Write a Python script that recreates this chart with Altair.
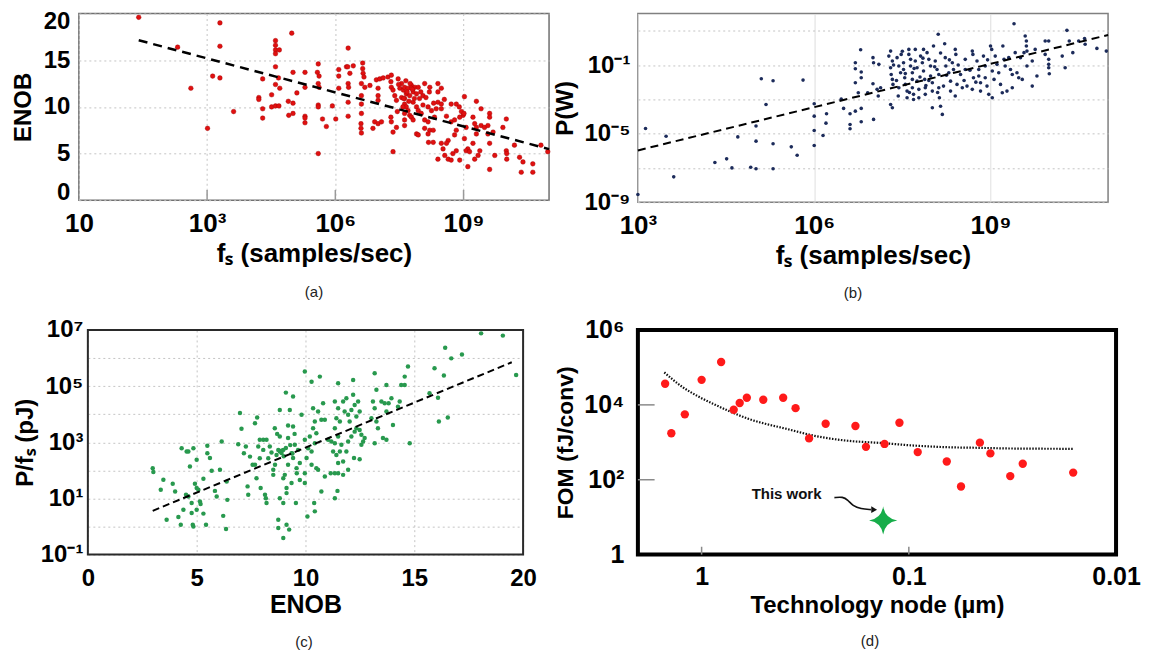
import math
import altair as alt
import pandas as pd

FONT = "Liberation Sans"

# ---------------- panel (a): ENOB vs fs  (log10 fs, ENOB) ----------------
a_points = [
    (1.40, 19.6), (2.31, 16.4), (3.30, 19.0), (3.30, 16.5), (2.62, 12.0), (3.13, 13.3), (3.30, 13.1),
    (3.01, 7.7), (3.62, 9.5), (4.21, 11.0), (4.21, 10.8), (4.30, 13.0), (4.30, 9.8), (4.30, 8.8),
    (4.51, 11.3), (4.51, 10.0), (4.60, 17.1), (4.60, 16.6), (4.60, 16.1), (4.69, 16.1), (4.60, 15.7),
    (4.60, 14.3), (4.67, 13.1), (4.60, 12.4), (4.70, 12.0), (4.60, 10.1), (4.68, 10.1), (4.90, 10.6),
    (5.01, 10.4), (4.91, 9.1), (5.01, 9.3), (4.98, 17.9), (5.01, 13.7), (5.10, 11.5), (5.29, 13.7),
    (5.29, 12.1), (5.29, 9.0), (5.29, 8.8), (5.29, 8.3), (5.60, 14.6), (5.58, 13.7), (5.62, 13.3),
    (5.60, 12.5), (5.62, 12.1), (5.60, 10.2), (5.60, 10.0), (5.93, 10.1), (5.70, 8.7), (5.79, 7.9),
    (6.01, 8.7), (5.60, 5.0), (6.08, 14.0), (6.08, 13.3), (6.08, 12.0), (6.26, 14.3),
    (6.30, 16.3), (6.29, 14.3), (6.34, 13.6), (6.30, 12.5), (6.31, 12.1), (6.30, 10.5), (6.30, 9.0),
    (6.42, 14.4), (6.64, 14.7), (6.64, 14.1), (6.65, 13.6), (6.67, 13.2), (6.61, 12.5), (6.69, 12.1),
    (6.61, 11.2), (6.61, 10.3), (6.61, 9.3), (6.60, 8.2), (6.60, 7.7), (6.61, 7.2), (6.81, 12.3),
    (6.88, 7.7), (6.92, 8.4), (7.00, 8.2), (7.08, 8.4), (6.96, 12.9), (7.04, 13.0), (7.12, 13.1),
    (7.23, 13.2), (7.31, 13.4), (7.47, 13.0), (7.00, 12.0), (7.00, 11.2), (7.00, 10.7), (7.30, 12.7),
    (7.31, 12.1), (7.35, 11.8), (7.39, 11.2), (7.43, 10.7), (7.30, 8.9), (7.31, 8.4), (7.35, 7.3),
    (7.43, 7.8), (7.35, 5.2), (7.51, 12.0), (7.55, 12.5), (7.59, 11.8), (7.62, 12.1), (7.66, 11.4),
    (7.62, 10.9), (7.62, 10.3), (7.66, 10.0), (7.62, 9.3), (7.62, 8.6), (7.62, 8.0), (7.70, 12.0),
    (7.74, 11.2), (7.78, 12.3), (7.82, 11.6), (7.86, 12.1), (7.90, 11.4), (7.94, 12.1), (7.97, 10.9),
    (7.82, 10.5), (7.90, 10.0), (7.94, 9.6), (8.01, 9.3), (7.74, 9.1), (7.78, 8.9), (7.82, 8.6),
    (7.90, 7.1), (7.94, 7.0), (8.09, 12.5), (8.21, 12.1), (8.05, 11.2), (8.17, 10.0), (8.25, 9.6),
    (8.36, 9.8), (8.09, 8.6), (8.17, 8.4), (8.32, 8.9), (8.09, 7.7), (8.21, 7.5), (8.17, 7.1),
    (8.40, 12.5), (8.48, 12.0), (8.40, 11.6), (8.40, 10.5), (8.48, 10.3), (8.48, 9.8), (8.18, 6.2),
    (8.29, 6.2), (8.48, 6.1), (8.29, 7.5), (8.71, 10.3), (8.83, 10.3), (8.71, 8.4), (8.79, 8.6),
    (8.83, 7.5), (8.79, 7.0), (8.64, 6.4), (8.60, 6.1), (8.52, 5.5), (8.40, 4.4), (8.56, 4.8),
    (8.64, 4.4), (8.71, 4.3), (8.75, 5.0), (8.83, 5.3), (8.91, 4.3), (9.02, 11.1), (8.95, 9.5),
    (8.99, 9.1), (8.91, 8.9), (9.01, 9.3), (9.06, 7.8), (9.02, 6.6), (9.10, 5.5), (9.06, 5.3),
    (9.14, 5.2), (9.10, 3.6), (9.22, 8.9), (9.26, 8.2), (9.30, 7.8), (9.30, 7.1), (9.22, 6.1),
    (9.26, 4.4), (9.34, 4.8), (9.38, 5.3), (9.30, 10.6), (9.41, 9.8), (9.41, 8.0), (9.49, 7.8),
    (9.57, 8.0), (9.61, 9.3), (9.61, 8.9), (9.61, 6.1), (9.57, 7.1), (9.69, 7.3), (9.73, 4.8),
    (9.61, 3.3), (9.92, 7.8), (10.00, 8.7), (10.00, 5.3), (10.01, 5.0), (10.01, 4.4), (10.19, 5.9),
    (10.31, 4.6), (10.39, 4.1), (10.35, 3.0), (10.62, 3.9), (10.62, 3.0), (10.81, 5.9), (10.97, 5.2),
    (7.55, 11.0), (7.60, 10.9), (7.68, 11.6), (7.72, 10.6), (7.75, 12.5), (7.80, 11.9), (7.65, 12.8),
    (7.58, 10.0), (7.70, 9.6), (7.85, 10.9), (8.00, 11.6), (8.05, 10.2), (7.48, 12.4), (7.45, 9.5),
    (8.12, 11.0), (8.30, 10.4), (8.20, 11.6), (8.55, 10.8), (8.60, 9.0), (8.90, 10.0),
]
a_trend_log_fs = [1.40, 11.0]
a_trend_enob = [17.14, 5.48]
a_inner_ticks = [1e3, 1e6, 1e9]

# ---------------- panel (b): P vs fs  (log10 fs, log10 P) ----------------
b_points = [
    (3.00, -8.55), (3.13, -4.70), (3.48, -5.15), (3.61, -7.52), (4.31, -6.68), (4.51, -6.47),
    (4.60, -7.00), (4.70, -5.19), (4.92, -6.96), (5.01, -7.05), (5.01, -4.56), (5.01, -5.44),
    (5.10, -1.80), (5.18, -3.30), (5.30, -1.92), (5.30, -5.59), (5.30, -7.05), (5.61, -5.77),
    (5.71, -6.26), (5.81, -1.88), (6.00, -3.26), (6.00, -3.98), (6.00, -4.82), (6.00, -5.69),
    (6.15, -5.11), (6.21, -3.84), (6.20, -4.39), (6.46, -2.99), (6.50, -3.53), (6.61, -3.84),
    (6.61, -4.47), (6.61, -4.72), (6.70, -0.87), (6.70, -1.22), (6.70, -2.03), (6.70, -3.69),
    (6.75, -2.62), (6.79, -0.11), (6.80, -1.41), (6.80, -1.74), (6.80, -3.53), (6.80, -4.31),
    (6.91, -2.62),
    (7.00, -0.57), (7.01, -0.87), (7.10, -0.96), (7.00, -2.09), (7.07, -2.42), (7.09, -2.81),
    (7.13, -2.33), (7.01, -4.17), (7.27, -0.48), (7.30, -0.19), (7.33, -0.77), (7.30, -1.16),
    (7.31, -1.55), (7.33, -1.84), (7.34, -2.13), (7.33, -3.49), (7.30, -3.30), (7.41, -0.57),
    (7.44, -1.06), (7.47, -1.45), (7.44, -2.33), (7.43, -2.81), (7.48, -0.38), (7.52, -0.87),
    (7.52, -1.26), (7.54, -1.74), (7.55, -2.13), (7.58, -2.52), (7.58, -2.91), (7.61, -0.09),
    (7.61, -0.38), (7.64, -0.67), (7.64, -1.06), (7.67, -1.45), (7.67, -1.84), (7.67, -2.33),
    (7.69, -2.71), (7.69, -3.01), (7.72, -0.09), (7.72, -0.77), (7.75, -1.16), (7.75, -1.94),
    (7.78, -2.42), (7.78, -2.91), (7.81, -0.48), (7.84, -0.87), (7.86, -0.09), (7.86, -1.35),
    (7.88, -1.84), (7.89, -2.33), (7.89, -2.71), (7.92, -0.28), (7.95, -0.67), (7.98, -1.06),
    (7.98, -1.64), (8.01, -2.03), (8.01, -2.52), (8.01, -3.49), (8.03, 0.11), (8.06, -0.77),
    (8.09, -1.26), (8.11, 0.79), (8.12, -1.55), (8.12, -2.33), (8.13, -2.91), (8.15, -3.40),
    (8.18, -3.88), (8.20, -2.23), (8.22, 0.24), (8.23, -0.57), (8.24, -1.06), (8.29, -1.45),
    (8.32, -1.94), (8.32, -2.52), (8.35, -0.87), (8.37, -1.26), (8.40, -0.09), (8.40, -2.81),
    (8.41, -0.38), (8.43, -2.13), (8.49, -1.55), (8.52, -2.33), (8.57, -0.67), (8.57, -1.26),
    (8.60, -2.23), (8.69, -0.19), (8.70, -0.38), (8.71, -1.74), (8.69, -2.42), (8.77, -0.77),
    (8.80, -1.26), (8.80, -1.64), (8.83, -2.03), (8.83, -2.52), (8.88, -0.48), (8.91, -1.06),
    (8.91, -1.74), (8.94, -2.23), (8.97, -2.71), (9.00, 0.11), (9.02, -0.09), (9.03, -1.35),
    (9.06, -1.84), (9.03, -2.91), (9.08, -0.48), (9.11, -0.96), (9.14, -1.45), (9.17, -2.13),
    (9.20, -2.62), (9.21, 0.11), (9.23, -0.67), (9.25, -1.06), (9.28, -2.52), (9.31, -0.57),
    (9.34, -1.26), (9.37, -1.55), (9.37, -2.33), (9.40, 1.41), (9.42, -0.28), (9.45, -1.45),
    (9.48, -1.74), (9.51, -0.57), (9.54, -1.84), (9.57, -0.28), (9.59, 0.69), (9.61, 0.40),
    (9.61, 0.11), (9.62, -0.19), (9.62, -1.06), (9.71, -0.77), (9.71, -2.23), (9.76, -0.09),
    (9.79, -1.64), (9.93, 0.40), (9.99, 0.40), (9.93, -0.38), (9.99, -0.67), (9.99, -0.96),
    (9.99, -1.16), (10.00, -1.51), (10.22, -0.48), (10.27, -1.16), (10.30, 1.02), (10.34, 0.40),
    (10.40, -0.28), (10.50, 0.40), (10.60, 0.55), (10.61, 0.21), (10.81, -0.03), (10.97, -0.19),
    (7.35, -1.0), (7.40, -1.9), (7.50, -0.2), (7.55, -1.5), (7.62, -2.6), (7.70, -1.2),
    (7.80, -1.7), (7.85, -0.6), (7.90, -2.2), (7.95, -1.9), (8.05, -1.1), (8.10, -2.6),
    (8.15, -0.3), (8.25, -1.6), (8.30, -0.7), (8.45, -1.0), (8.55, -1.9), (8.65, -1.3),
    (8.75, -2.0), (8.95, -0.7),
]
b_trend_log_fs = [3.0, 11.0]
b_trend_log_p = [-5.98, 0.75]

# ---------------- panel (c): P/fs vs ENOB  (ENOB, log10 pJ) ----------------
c_points = [
    (2.98, 2.08), (3.01, 1.94), (3.47, 1.67), (3.35, 1.31), (3.62, 0.24), (3.90, 1.52), (4.01, 1.25),
    (4.16, 0.34), (4.27, 0.06), (4.31, 2.79), (4.54, 2.67), (4.62, 2.67), (4.39, 0.60), (4.51, 1.13),
    (4.62, 1.07), (4.69, 2.14), (4.77, 0.84), (4.77, 0.48), (4.82, 0.06), (4.85, 0.00), (4.85, 2.79),
    (4.92, 1.52), (5.00, 1.37), (5.00, 2.38), (5.00, 0.60), (5.08, 1.31), (5.15, 0.89), (5.18, 0.80),
    (5.31, 1.70), (5.31, 0.46), (5.43, 0.06), (5.49, 2.88), (5.49, 2.61), (5.61, 2.44), (5.69, 1.99),
    (5.84, 1.27), (5.92, 1.07), (6.07, 2.02), (6.15, 3.03), (6.22, 0.38), (6.35, -0.09), (6.38, 1.60),
    (6.41, 0.95), (6.91, 2.93), (6.99, 4.04), (7.06, 3.48), (7.17, 2.61), (7.26, 2.85), (7.34, 1.43),
    (7.37, 1.13), (7.45, 2.49), (7.57, 2.20), (7.68, 2.20), (7.68, 3.68), (7.75, 1.72), (7.78, 3.88),
    (7.83, 2.85), (7.90, 3.09), (7.94, 1.37), (7.90, 2.43), (8.06, 3.09), (8.21, 3.09), (8.06, 2.73),
    (8.14, 1.13), (8.18, 1.01), (8.21, 0.84), (8.29, 2.43), (8.36, 2.85), (8.44, 2.64), (8.52, 2.02),
    (8.52, 1.84), (8.59, 3.50), (8.67, 2.55), (8.75, 2.73), (8.75, 0.24), (8.75, -0.05), (8.82, 4.15),
    (8.82, 3.21), (8.90, 2.62), (8.82, 2.67), (8.98, 2.73), (8.82, 1.01), (8.98, 0.84), (8.98, -0.41),
    (8.98, 1.72), (9.05, 1.84), (9.10, 4.77), (9.13, 1.37), (9.13, 1.19), (9.13, 0.06), (9.20, 3.15),
    (9.20, 2.20), (9.25, -0.11), (9.28, 4.15), (9.36, 2.61), (9.36, 1.55), (9.43, 4.63), (9.43, 3.56),
    (9.43, 2.44), (9.51, 2.91), (9.56, 0.84), (9.59, 2.08), (9.66, 2.73), (9.74, 2.26), (9.74, 1.66),
    (9.82, 3.98), (9.97, 5.52), (9.97, 3.09), (9.97, 1.55),
    (8.90, 2.70), (9.00, 2.50), (9.10, 2.80), (9.30, 2.90), (9.40, 2.60), (9.50, 3.30), (9.20, 3.60),
    (8.70, 3.30), (8.60, 2.20), (9.60, 1.90),
    (10.28, 5.16), (10.66, 5.34), (10.35, 4.21), (10.58, 4.10), (10.81, 4.39), (10.20, 3.21),
    (10.43, 3.74), (10.35, 3.50), (10.73, 3.80), (10.89, 3.80), (10.50, 3.32), (10.43, 2.97),
    (10.12, 2.79), (10.28, 2.67), (10.05, 2.44), (10.28, 2.20), (9.97, 1.90), (10.50, 2.08),
    (10.58, 2.02), (10.89, 1.78), (10.73, 1.25), (10.40, 0.84), (10.43, 0.54), (10.09, 0.36),
    (11.35, 4.45), (11.50, 4.21), (11.42, 3.86), (11.35, 3.50), (11.58, 3.74), (11.73, 4.45),
    (11.80, 4.10), (11.88, 4.57), (11.96, 3.98), (12.11, 4.15), (12.03, 3.74), (12.19, 4.69),
    (12.26, 4.33), (12.42, 4.45), (12.34, 3.92), (12.49, 4.10), (11.04, 3.09), (11.19, 3.03),
    (11.35, 2.97), (11.50, 3.21), (11.27, 2.67), (11.42, 2.55), (11.58, 2.67), (11.65, 2.91),
    (11.88, 2.67), (11.96, 3.03), (12.11, 3.21), (12.26, 3.38), (12.34, 3.50), (12.49, 3.44),
    (12.57, 3.27), (12.65, 3.03), (12.72, 3.15), (12.57, 2.91), (11.50, 5.10), (12.19, 5.22),
    (11.50, 2.26), (11.73, 2.32), (11.96, 2.02), (12.23, 2.44), (12.49, 2.40), (11.16, 1.90),
    (11.35, 1.90), (11.50, 1.90), (11.73, 1.84), (11.35, 1.01), (11.47, 1.27), (13.18, 5.46),
    (13.26, 4.87), (13.10, 4.45), (13.18, 4.21), (13.03, 3.86), (13.26, 3.74), (13.33, 3.50),
    (13.18, 2.97), (13.56, 3.15), (13.72, 3.09), (13.49, 4.45), (13.64, 4.39), (13.72, 4.10),
    (13.82, 4.39), (13.72, 5.04), (13.95, 4.57), (14.33, 4.45), (14.25, 4.27), (14.02, 3.62),
    (14.71, 5.70), (14.56, 5.34), (14.40, 5.04), (14.56, 5.04), (14.79, 2.97), (15.70, 4.75),
    (15.93, 5.64), (16.09, 4.59), (16.13, 3.74), (16.36, 5.38), (16.42, 6.37), (16.54, 3.88),
    (16.70, 5.99), (17.19, 6.13), (18.07, 6.88), (19.07, 6.80), (19.68, 5.40),
]
c_trend_enob = [2.98, 19.48]
c_trend_log_pj = [0.56, 5.85]

# ---------------- panel (d): FOM vs technology node ----------------
d_node = [1.50, 1.40, 1.205, 1.0, 0.805, 0.70, 0.655, 0.605, 0.504, 0.404, 0.352, 0.303, 0.252,
          0.181, 0.161, 0.131, 0.111, 0.0906, 0.0656, 0.056, 0.0454, 0.0404, 0.0324, 0.0282, 0.0161]
d_fom = [36600, 1750, 5580, 46600, 140000, 7400, 11200, 15500, 13700, 15500, 8170, 1270, 3130,
         2720, 755, 904, 3320, 548, 307, 66, 980, 506, 125, 267, 155]
d_fit_node = [1.514, 1.237, 1.030, 0.857, 0.713, 0.594, 0.494, 0.411, 0.342, 0.285, 0.197, 0.137,
              0.0947, 0.0656, 0.0454, 0.0315, 0.0160]
d_fit_fom = [73800, 30000, 16400, 9980, 6300, 4220, 3130, 2460, 1900, 1490, 1100, 960, 820, 740,
             711, 682, 670]
d_this_node = [0.133]
d_this_fom = [8.2]
d_label_node = [0.389]
d_label_fom = [42]
d_arrow_node = [0.2286, 0.2084, 0.197, 0.1866, 0.1702, 0.1524]
d_arrow_fom = [33.3, 35.3, 28.9, 20.2, 16.5, 15.9]
d_arrowhead_node = [0.147]
d_arrowhead_fom = [15.9]
d_ytick_vals = [100, 10000]
d_xtick_vals = [1, 0.1]

# ---------------- helpers ----------------
SUP = str.maketrans("-0123456789", "⁻⁰¹²³⁴⁵⁶⁷⁸⁹")


def pow10(e):
    return "10" + str(e).translate(SUP)


def log_label_expr(pairs):
    expr = "''"
    for v, lab in reversed(pairs):
        e = math.log10(v)
        expr = f"(abs(log(datum.value)/LN10 - ({e:.4f})) < 0.01) ? '{lab}' : ({expr})"
    return expr


def axis(title, values=None, label_expr=None, grid=True, grid_dash=(2, 3), grid_color="#c4c4c4",
         label_size=24, title_size=24, label_pad=8, title_pad=6, weight="bold", **extra):
    kw = dict(
        title=title, grid=grid, domain=False, ticks=False,
        labelFont=FONT, labelFontSize=label_size, labelFontWeight=weight, labelColor="black",
        titleFont=FONT, titleFontSize=title_size, titleFontWeight=weight, titleColor="black",
        labelPadding=label_pad, titlePadding=title_pad, labelOverlap=False, labelFlush=False,
    )
    if grid:
        kw.update(gridColor=grid_color, gridDash=list(grid_dash), gridWidth=1)
    if values is not None:
        kw["values"] = values
    if label_expr is not None:
        kw["labelExpr"] = label_expr
    kw.update(extra)
    return alt.Axis(**kw)


def caption(text, offset, dx=0):
    return alt.TitleParams(text, orient="bottom", anchor="middle", font=FONT, fontSize=15,
                           fontWeight="normal", color="#222", offset=offset, dx=dx)


# ---------------- chart (a) ----------------
df_a = pd.DataFrame({"fs": [10 ** p[0] for p in a_points], "enob": [p[1] for p in a_points]})
df_a_tr = pd.DataFrame({"fs": [10 ** v for v in a_trend_log_fs], "enob": a_trend_enob})
df_a_tk = pd.DataFrame({"fs": a_inner_ticks, "enob": [0] * len(a_inner_ticks),
                        "enob2": [1.1] * len(a_inner_ticks)})
xa = alt.X("fs:Q", scale=alt.Scale(type="log", domain=[1, 1e11], nice=False),
           axis=axis("fₛ (samples/sec)", [1, 1e3, 1e6, 1e9],
                     log_label_expr([(1, "10"), (1e3, pow10(3)), (1e6, pow10(6)), (1e9, pow10(9))]),
                     label_size=26, title_size=26, label_pad=10, title_pad=4))
ya = alt.Y("enob:Q", scale=alt.Scale(domain=[0, 20], nice=False),
           axis=axis("ENOB", [0, 5, 10, 15, 20], label_size=24, title_size=24, label_pad=9, title_pad=8,
                     labelFlush=True, labelFlushOffset=4))
tka = alt.Chart(df_a_tk).mark_rule(color="#999", strokeWidth=1.5).encode(x=xa, y=ya, y2="enob2:Q")
pa = alt.Chart(df_a).mark_circle(size=22, color="#e01010", opacity=1,
                                 stroke="#a00000", strokeWidth=0.4).encode(x=xa, y=ya)
la = alt.Chart(df_a_tr).mark_line(color="black", strokeDash=[9, 6], strokeWidth=2.5).encode(x=xa, y=ya)
chart_a = alt.layer(tka, pa, la).properties(
    width=471, height=187, view=alt.ViewBackground(stroke="#707070", strokeWidth=1.5),
    title=caption("(a)", 19))

# ---------------- chart (b) ----------------
df_b = pd.DataFrame({"fs": [10 ** p[0] for p in b_points], "p": [10 ** p[1] for p in b_points]})
df_b_tr = pd.DataFrame({"fs": [10 ** v for v in b_trend_log_fs], "p": [10 ** v for v in b_trend_log_p]})
xb = alt.X("fs:Q", scale=alt.Scale(type="log", domain=[1e3, 1e11], nice=False),
           axis=axis("fₛ (samples/sec)", [1e3, 1e6, 1e9],
                     log_label_expr([(1e3, pow10(3)), (1e6, pow10(6)), (1e9, pow10(9))]),
                     grid_dash=(1, 0), grid_color="#dcdcdc",
                     label_size=26, title_size=26, label_pad=10, title_pad=4))
yb_vals = [1e-9, 1e-7, 1e-5, 1e-3, 1e-1, 1e1]
yb = alt.Y("p:Q", scale=alt.Scale(type="log", domain=[1e-9, 1e2], nice=False),
           axis=axis("P(W)", yb_vals,
                     log_label_expr([(1e-9, pow10(-9)), (1e-7, ""), (1e-5, pow10(-5)), (1e-3, ""),
                                     (1e-1, pow10(-1)), (1e1, "")]),
                     label_size=24, title_size=24, label_pad=8, title_pad=6))
pb = alt.Chart(df_b).mark_circle(size=13, color="#1c2b5a", opacity=1).encode(x=xb, y=yb)
lb = alt.Chart(df_b_tr).mark_line(color="black", strokeDash=[8, 5], strokeWidth=2).encode(x=xb, y=yb)
chart_b = alt.layer(pb, lb).properties(
    width=471, height=189, view=alt.ViewBackground(stroke="#808080", strokeWidth=1.5),
    title=caption("(b)", 18, dx=-20))

# ---------------- chart (c) ----------------
C_SHIFT = 9  # plot frame starts a little right of column (a)'s frame
df_c = pd.DataFrame({"enob": [p[0] for p in c_points], "pj": [10 ** p[1] for p in c_points]})
df_c_tr = pd.DataFrame({"enob": c_trend_enob, "pj": [10 ** v for v in c_trend_log_pj]})
df_c_frame = pd.DataFrame({"enob": [0], "enob2": [20], "pj": [0.1], "pj2": [1e7]})
xc = alt.X("enob:Q", scale=alt.Scale(domain=[0, 20], nice=False, range=[C_SHIFT, 445]),
           axis=axis("ENOB", [0, 5, 10, 15, 20], label_size=24, title_size=25, label_pad=12, title_pad=2))
yc_vals = [0.1, 1, 10, 100, 1e3, 1e4, 1e5, 1e6, 1e7]
yc = alt.Y("pj:Q", scale=alt.Scale(type="log", domain=[0.1, 1e7], nice=False),
           axis=axis("P/fₛ (pJ)", yc_vals,
                     log_label_expr([(0.1, pow10(-1)), (1, ""), (10, pow10(1)), (100, ""),
                                     (1e3, pow10(3)), (1e4, ""), (1e5, pow10(5)), (1e6, ""),
                                     (1e7, pow10(7))]),
                     label_size=24, title_size=24, label_pad=5, title_pad=3, offset=-C_SHIFT))
frame_c = alt.Chart(df_c_frame).mark_rect(fill="transparent", stroke="#2a2a2a", strokeWidth=2).encode(
    x=xc, x2="enob2:Q", y=yc, y2="pj2:Q")
pc = alt.Chart(df_c).mark_circle(size=20, color="#28994e", opacity=1).encode(x=xc, y=yc)
lc = alt.Chart(df_c_tr).mark_line(color="black", strokeDash=[7, 4], strokeWidth=2).encode(x=xc, y=yc)
chart_c = alt.layer(pc, lc, frame_c).properties(
    width=445, height=225, view=alt.ViewBackground(stroke="transparent"),
    title=caption("(c)", 18, dx=3))

# ---------------- chart (d) ----------------
df_d = pd.DataFrame({"node": d_node, "fom": d_fom})
df_d_fit = pd.DataFrame({"node": d_fit_node, "fom": d_fit_fom})
df_d_star = pd.DataFrame({"node": d_this_node, "fom": d_this_fom})
df_d_lab = pd.DataFrame({"node": d_label_node, "fom": d_label_fom, "txt": ["This work"]})
df_d_arrow = pd.DataFrame({"node": d_arrow_node, "fom": d_arrow_fom, "k": list(range(len(d_arrow_node)))})
df_d_head = pd.DataFrame({"node": d_arrowhead_node, "fom": d_arrowhead_fom})
df_d_yt = pd.DataFrame({"node": [2.03] * len(d_ytick_vals), "node2": [1.686] * len(d_ytick_vals),
                        "fom": d_ytick_vals})
df_d_xt = pd.DataFrame({"node": d_xtick_vals, "fom": [1.0] * len(d_xtick_vals),
                        "fom2": [1.62] * len(d_xtick_vals)})

xd = alt.X("node:Q", scale=alt.Scale(type="log", domain=[0.01, 2.03], reverse=True, nice=False),
           axis=axis("Technology node (µm)", [1, 0.1, 0.01],
                     log_label_expr([(1, "1"), (0.1, "0.1"), (0.01, "0.01")]),
                     grid=False, label_size=25, title_size=24, label_pad=10, title_pad=4))
yd = alt.Y("fom:Q", scale=alt.Scale(type="log", domain=[1, 1e6], nice=False),
           axis=axis("FOM (fJ/conv)", [1, 100, 1e4, 1e6],
                     log_label_expr([(1, "1"), (100, pow10(2)), (1e4, pow10(4)), (1e6, pow10(6))]),
                     grid=False, label_size=25, title_size=23, label_pad=14, title_pad=6))

d_yt = alt.Chart(df_d_yt).mark_rule(color="#8a8a8a", strokeWidth=1.5).encode(x=xd, x2="node2:Q", y=yd)
d_xt = alt.Chart(df_d_xt).mark_rule(color="#8a8a8a", strokeWidth=1.5).encode(x=xd, y=yd, y2="fom2:Q")
d_fit = alt.Chart(df_d_fit).mark_line(color="#111", strokeDash=[1.5, 1.5], strokeWidth=2.2,
                                      interpolate="monotone").encode(x=xd, y=yd)
d_pts = alt.Chart(df_d).mark_circle(size=70, color="#ff1a1a", opacity=1).encode(x=xd, y=yd)
star_path = "M0,-1 Q0.13,-0.13 1,0 Q0.13,0.13 0,1 Q-0.13,0.13 -1,0 Q-0.13,-0.13 0,-1 Z"
d_star = alt.Chart(df_d_star).mark_point(shape=star_path, size=800, filled=True, color="#17ad4a",
                                         opacity=1).encode(x=xd, y=yd)
d_lab = alt.Chart(df_d_lab).mark_text(font=FONT, fontSize=15, fontWeight="bold", color="#111",
                                      align="center", baseline="middle").encode(x=xd, y=yd, text="txt:N")
d_arrow = alt.Chart(df_d_arrow).mark_line(color="#111", strokeWidth=1.6, interpolate="basis").encode(
    x=xd, y=yd, order="k:Q")
d_head = alt.Chart(df_d_head).mark_point(shape="triangle-right", size=45, filled=True, color="#111",
                                         opacity=1).encode(x=xd, y=yd)
chart_d = alt.layer(d_yt, d_xt, d_fit, d_pts, d_star, d_arrow, d_head, d_lab).properties(
    width=479, height=225, view=alt.ViewBackground(stroke="black", strokeWidth=4),
    title=caption("(d)", 17, dx=-7))

# ---------------- layout ----------------
chart = alt.concat(
    chart_a, chart_b, chart_c, chart_d, columns=2, bounds="flush",
    spacing=alt.RowColnumber(row=128, column=89),
).properties(
    padding={"left": 2, "top": 0, "right": 2, "bottom": 2}, background="white"
).configure(font=FONT).configure_view(stroke=None)

chart.save("out.html", embed_options={"renderer": "svg", "actions": False})
